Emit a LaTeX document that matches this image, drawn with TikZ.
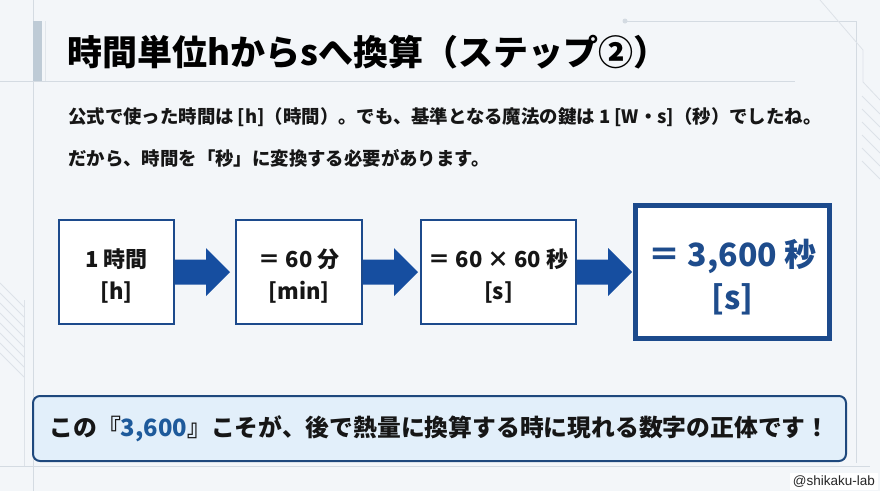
\documentclass[tikz,border=0pt]{standalone}
\usepackage{fontspec}
\setmainfont{Noto Sans CJK JP}
\newfontfamily\wmfont{Liberation Sans}
\usetikzlibrary{calc}
\definecolor{bg}{RGB}{243,246,249}
\definecolor{deco}{RGB}{212,219,226}
\definecolor{accent}{RGB}{190,203,214}
\definecolor{boxblue}{RGB}{28,74,140}
\definecolor{arrowblue}{RGB}{22,78,160}
\definecolor{bigblue}{RGB}{30,76,140}
\definecolor{calloutfill}{RGB}{226,239,250}
\definecolor{calloutdraw}{RGB}{30,72,125}
\definecolor{numblue}{RGB}{30,90,155}
\definecolor{ink}{RGB}{22,22,22}
\tikzset{
  stepbox/.style={draw=boxblue, line width=2pt, fill=white, inner sep=0pt, align=center, text=ink,
    font=\bfseries\fontsize{22}{32}\selectfont, minimum height=104},
  bigbox/.style={draw=boxblue, line width=5pt, fill=white, inner sep=0pt, align=center, text=bigblue,
    font=\bfseries\fontsize{32}{43}\selectfont, minimum width=194, minimum height=133},
  callout/.style={draw=calloutdraw, line width=2pt, fill=calloutfill, rounded corners=7pt, inner sep=0pt,
    text=ink, font=\bfseries\fontsize{23.8}{28}\selectfont, minimum width=813, minimum height=65},
  bodytext/.style={anchor=west, inner sep=0pt, text=ink, font=\bfseries\fontsize{18.4}{21}\selectfont},
  titletext/.style={anchor=west, inner sep=0pt, text=black, font=\bfseries\fontsize{35}{40}\selectfont},
  decoline/.style={draw=deco, line width=1pt},
  hatch/.style={draw=deco!80, line width=0.8pt},
  blockarrow/.style={fill=arrowblue}
}
\begin{document}
\begin{tikzpicture}[x=1pt,y=-1pt]
\useasboundingbox (0,0) rectangle (880,491);
\fill[bg] (0,0) rectangle (880,491);
% decorations
\draw[decoline] (33,0) -- (33,491);
\draw[decoline] (0,81) -- (795,81);
\fill[accent] (33,21) rectangle (42,81);
\draw[decoline, draw=deco!70] (45,21) -- (45,81);
\fill[deco] (625,21) circle (2.5);
\draw[decoline] (625,21) -- (856,21) -- (856,463);
\draw[decoline] (0,466) -- (870,466);
\draw[hatch] (820,0) -- (863,50) -- (863,82) -- (880,100);
\foreach \k in {0,...,5} \draw[hatch] (862,{96+13*\k}) -- (880,{114+13*\k});
\foreach \k in {0,...,7} \draw[hatch] (0,{283+10*\k}) -- (24,{307+10*\k});
\draw[hatch] (24,300) -- (24,466);
% title
\node[titletext] (title) at (67,52) {時間単位hからsへ換算（ステップ②）};
% body
\node[bodytext] (l1) at (68,117) {公式で使った時間は [h]（時間）。でも、基準となる魔法の鍵は 1 [W・s]（秒）でしたね。};
\node[bodytext] (l2) at (68,158) {だから、時間を「秒」に変換する必要があります。};
% boxes
\node[stepbox, minimum width=115] (b1) at (116.5,272) {\rule{0pt}{26pt}1 時間\\{}[h]};
\node[stepbox, minimum width=126] (b2) at (299,272) {\rule{0pt}{26pt}＝ 60 分\\{}[min]};
\node[stepbox, minimum width=155] (b3) at (498.5,272) {\rule{0pt}{26pt}＝ 60 × 60 秒\\{}[s]};
\node[bigbox] (b4) at (732.5,272) {\rule{0pt}{37pt}＝ 3,600 秒\\{}[s]};
% arrows
\foreach \a/\b in {b1/b2, b2/b3, b3/b4}{
  \fill[blockarrow] ($(\a.east)+(0,-12.5)$) -- ($(\a.east)+(31,-12.5)$) -- ($(\a.east)+(31,-24)$)
    -- ($(\a.east)+(55,0)$) -- ($(\a.east)+(31,24)$) -- ($(\a.east)+(31,12.5)$) -- ($(\a.east)+(0,12.5)$) -- cycle;
}
% callout
\node[callout] (c) at (439.5,428.5) {この『{\color{numblue}3,600}』こそが、後で熱量に換算する時に現れる数字の正体です！};
% watermark
\node[fill=white, inner xsep=3pt, inner ysep=2.5pt, anchor=south east, text=black!85, font=\wmfont\fontsize{13.5}{15}\selectfont] (wm) at (878,490) {@shikaku-lab};
\end{tikzpicture}
\end{document}
